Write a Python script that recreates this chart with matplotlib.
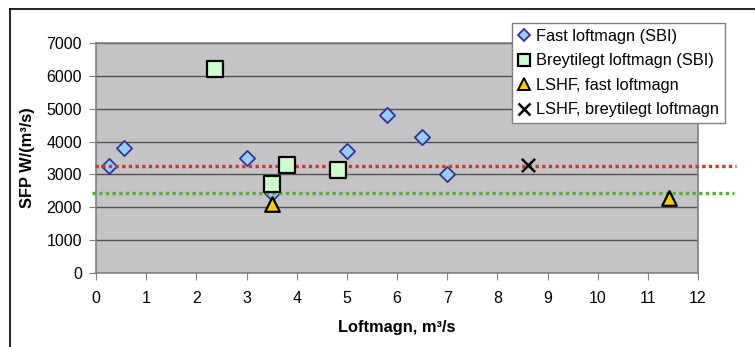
import matplotlib
matplotlib.use("Agg")
import matplotlib.pyplot as plt
from matplotlib.lines import Line2D

plt.rcParams['font.family'] = ['Liberation Sans', 'DejaVu Sans']

# Fixed airflow, SBI measurements
fast_x = [0.25, 0.55, 3.0, 3.5, 5.0, 5.8, 6.5, 7.0]
fast_y = [3250, 3800, 3500, 2450, 3700, 4800, 4150, 3000]
# Variable airflow, SBI measurements
breyt_x = [2.37, 3.5, 3.8, 4.82]
breyt_y = [6200, 2700, 3300, 3150]
# LSHF, fixed airflow
lshf_fast_x = [3.5, 11.42]
lshf_fast_y = [2100, 2280]
# LSHF, variable airflow
lshf_breyt_x = [8.62]
lshf_breyt_y = [3300]
# Reference levels
ref_red = 3250
ref_green = 2450

x_ticks = list(range(0, 13))
y_ticks = list(range(0, 7001, 1000))

W, H = 755, 347
fig = plt.figure(figsize=(W / 100, H / 100), dpi=100)
ax = fig.add_axes([96 / W, 1 - 273.3 / H, (698 - 96) / W, (273.3 - 42.7) / H])

ax.set_facecolor('#C4C4C6')
ax.set_xlim(0, 12)
ax.set_ylim(0, 7000)
ax.set_xticks(x_ticks)
ax.set_yticks(y_ticks)
ax.yaxis.grid(True, color='#505050', linewidth=1.0)
ax.set_axisbelow(True)
for s in ax.spines.values():
    s.set_color('#808080')
    s.set_linewidth(1.2)
ax.tick_params(axis='both', direction='out', length=5, color='#808080',
               labelsize=11.5)
ax.tick_params(axis='x', pad=8)
ax.tick_params(axis='y', pad=5)

ax.scatter(fast_x, fast_y, marker='D', s=60, facecolor='#99CCFF',
           edgecolor='#333399', linewidths=1.3, zorder=3,
           label='Fast loftmagn (SBI)')
ax.scatter(breyt_x, breyt_y, marker='s', s=120, facecolor='#CCFFCC',
           edgecolor='black', linewidths=1.6, zorder=4,
           label='Breytilegt loftmagn (SBI)')
ax.scatter(lshf_fast_x, lshf_fast_y, marker='^', s=110, facecolor='#FFCC00',
           edgecolor='black', linewidths=1.6, zorder=5,
           label='LSHF, fast loftmagn')
ax.scatter(lshf_breyt_x, lshf_breyt_y, marker='x', s=90, color='black',
           linewidths=1.8, zorder=5, label='LSHF, breytilegt loftmagn')

ax.plot([-0.02, 12.75], [ref_red, ref_red], color='#E03020', lw=2.4,
        linestyle=(0, (1, 1)), clip_on=False, zorder=3.5)
ax.plot([-0.07, 12.71], [ref_green, ref_green], color='#55B030', lw=2.4,
        linestyle=(0, (1, 1)), clip_on=False, zorder=3.5)

ax.set_xlabel('Loftmagn, m³/s', fontsize=11.8, fontweight='bold', labelpad=10)
ax.set_ylabel('SFP W/(m³/s)', fontsize=11.8, fontweight='bold', labelpad=8)

handles = [
    Line2D([], [], marker='D', linestyle='none', markersize=6,
           markerfacecolor='#99CCFF', markeredgecolor='#333399', markeredgewidth=1.3),
    Line2D([], [], marker='s', linestyle='none', markersize=8,
           markerfacecolor='#CCFFCC', markeredgecolor='black', markeredgewidth=1.6),
    Line2D([], [], marker='^', linestyle='none', markersize=8,
           markerfacecolor='#FFCC00', markeredgecolor='black', markeredgewidth=1.4),
    Line2D([], [], marker='x', linestyle='none', markersize=8,
           color='black', markeredgewidth=1.8),
]
labels = ['Fast loftmagn (SBI)', 'Breytilegt loftmagn (SBI)',
          'LSHF, fast loftmagn', 'LSHF, breytilegt loftmagn']
leg = fig.legend(handles, labels, loc='upper left',
                 bbox_to_anchor=(512 / W, 1 - 23 / H), fontsize=11.8,
                 frameon=True, fancybox=False, framealpha=1,
                 edgecolor='#808080', handlelength=0.8, handletextpad=0.3,
                 borderpad=0.35, labelspacing=0.58, borderaxespad=0)
leg.get_frame().set_linewidth(1.0)

# Outer chart frame (top and left edges)
fig.add_artist(Line2D([10 / W, 1], [1 - 9 / H, 1 - 9 / H], color='black', lw=1.2))
fig.add_artist(Line2D([10 / W, 10 / W], [0, 1 - 9 / H], color='black', lw=1.2))

fig.savefig('out.png', dpi=100)
